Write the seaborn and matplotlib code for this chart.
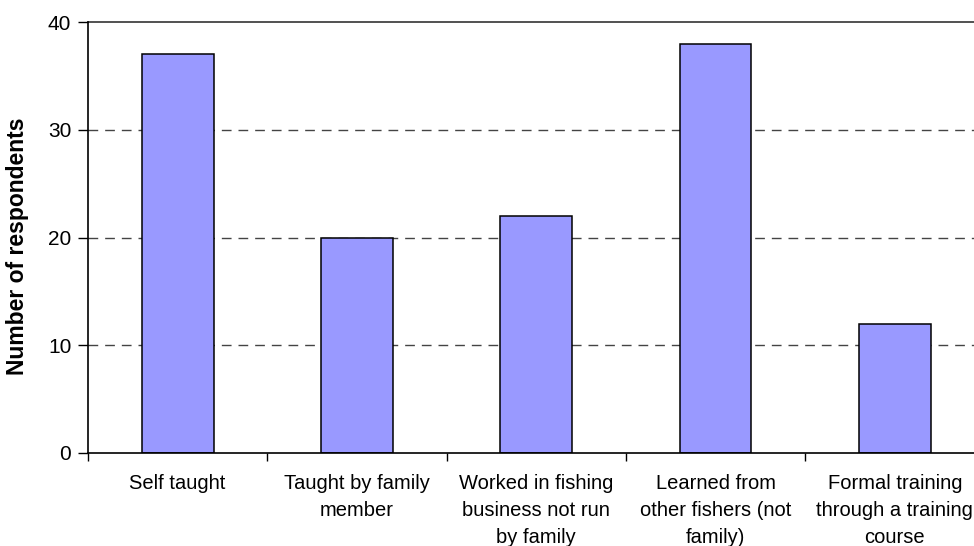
import matplotlib
matplotlib.use("Agg")
import matplotlib.pyplot as plt
import seaborn as sns
import pandas as pd
import numpy as np
from matplotlib.ticker import FixedLocator

categories = [
    "Self taught",
    "Taught by family\nmember",
    "Worked in fishing\nbusiness not run\nby family",
    "Learned from\nother fishers (not\nfamily)",
    "Formal training\nthrough a training\ncourse",
]
values = [37, 20, 22, 38, 12]
y_ticks = [0, 10, 20, 30, 40]
y_label = "Number of respondents"

sns.set_theme(style="white")
plt.rcParams["font.family"] = ["Liberation Sans", "DejaVu Sans"]
plt.rcParams["text.color"] = "black"
plt.rcParams["axes.labelcolor"] = "black"
plt.rcParams["xtick.color"] = "black"
plt.rcParams["ytick.color"] = "black"

df = pd.DataFrame({"cat": categories, "val": values})

fig = plt.figure(figsize=(9.74, 5.46), dpi=100)
ax = fig.add_axes([88 / 974, 1 - 453 / 546, 896.5 / 974, (453 - 22) / 546])

for y in y_ticks[1:-1]:
    ax.axhline(y, color="#444444", lw=1, ls=(0, (7, 5)), zorder=0)
ax.axhline(y_ticks[-1], color="#333333", lw=1.2, zorder=0, clip_on=False)

sns.barplot(data=df, x="cat", y="val", color="#9999FF", width=0.4,
            edgecolor="black", linewidth=1.1, saturation=1, ax=ax, zorder=2)

ax.set_xlim(-0.5, len(categories) - 0.5)
ax.set_ylim(0, 40)
ax.set_yticks(y_ticks)
ax.set_yticklabels([str(t) for t in y_ticks], fontsize=15)
ax.set_xticks(range(len(categories)))
ax.set_xticklabels(categories, fontsize=14.5, linespacing=1.55)
ax.xaxis.set_minor_locator(FixedLocator(np.arange(-0.5, len(categories), 1)))
ax.tick_params(axis="x", which="major", length=0, pad=15)
ax.tick_params(axis="x", which="minor", length=6, width=1, color="black", direction="out", bottom=True)
ax.tick_params(axis="y", length=7, width=1, color="black", direction="out", left=True, pad=5)
ax.set_xlabel("")
ax.set_ylabel(y_label, fontsize=16.5, fontweight="bold")
ax.yaxis.set_label_coords(-0.066, 0.479)

for s in ["top", "right"]:
    ax.spines[s].set_visible(False)
for s in ["left", "bottom"]:
    ax.spines[s].set_color("black")
    ax.spines[s].set_linewidth(1.2)

fig.savefig("out.png", dpi=100)
